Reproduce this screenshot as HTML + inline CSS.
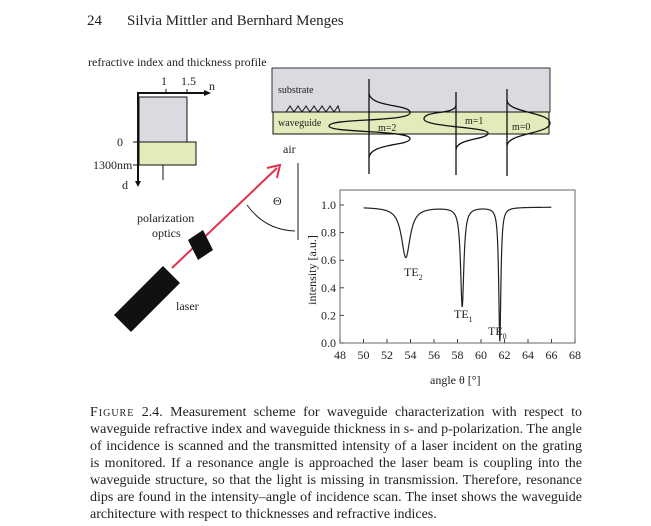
<!DOCTYPE html>
<html><head><meta charset="utf-8"><style>
body{margin:0;width:651px;height:526px;background:#fff;position:relative;overflow:hidden;font-family:"Liberation Serif",serif;color:#222}
.cap{position:absolute;left:90px;width:492px;font-size:14px;line-height:17px;text-align:justify;text-align-last:justify;white-space:nowrap}
.cap.l{text-align-last:left}
svg text{font-family:"Liberation Serif",serif;fill:#222}
</style></head><body>
<svg width="651" height="400" style="position:absolute;left:0;top:0">
<text x="87" y="25" font-size="15">24</text>
<text x="127" y="25" font-size="15">Silvia Mittler and Bernhard Menges</text>
<text x="88" y="66" font-size="12">refractive index and thickness profile</text>
<!-- left profile -->
<rect x="139" y="97" width="48" height="45" fill="#d9dbe0" stroke="#111" stroke-width="1"/>
<rect x="139" y="142" width="57" height="23" fill="#e3ebba" stroke="#111" stroke-width="1"/>
<line x1="138" y1="92" x2="138" y2="182" stroke="#111" stroke-width="2"/>
<polygon points="135,181 141,181 138,187" fill="#111"/>
<line x1="138" y1="93" x2="205" y2="93" stroke="#111" stroke-width="2"/>
<polygon points="204,90 211,93 204,96" fill="#111"/>
<line x1="166" y1="89" x2="166" y2="93" stroke="#111"/>
<line x1="187" y1="89" x2="187" y2="93" stroke="#111"/>
<line x1="163" y1="165" x2="163" y2="180" stroke="#111"/>
<line x1="133" y1="142" x2="139" y2="142" stroke="#111"/>
<line x1="133" y1="165" x2="139" y2="165" stroke="#111"/>
<text x="161" y="85" font-size="12">1</text>
<text x="181" y="85" font-size="12">1.5</text>
<text x="209" y="90" font-size="12">n</text>
<text x="117" y="146" font-size="12">0</text>
<text x="93" y="169" font-size="12">1300nm</text>
<text x="122" y="189" font-size="12">d</text>
<!-- waveguide inset -->
<rect x="272" y="68" width="278" height="44" fill="#d9dbe0" stroke="#333"/>
<rect x="273" y="112" width="276" height="22" fill="#e3ebba" stroke="#111"/>
<polyline points="286,112 290,106 294,112 298,106 302,112 306,106 310,112 314,106 318,112 322,106 326,112 330,106 334,112 338,106 340,112" fill="none" stroke="#111"/>
<text x="278" y="93" font-size="10">substrate</text>
<text x="278" y="126" font-size="10">waveguide</text>
<text x="378" y="131" font-size="10">m=2</text>
<text x="465" y="124" font-size="10">m=1</text>
<text x="512" y="130" font-size="10">m=0</text>
<g stroke="#111" fill="none" stroke-width="1.3">
<line x1="369" y1="79" x2="369" y2="174"/>
<line x1="456" y1="92" x2="456" y2="175"/>
<line x1="507" y1="89" x2="507" y2="176"/>
<path d="M369,93 C370,108 412,104 410,113 C408,122 329,118 329,126 C329,133 412,130 410,139 C408,146 370,143 369,158"/>
<path d="M456,105 C456,115 424,110 424,119 C424,127 488,127 488,133 C488,140 456,138 456,150"/>
<path d="M507,100 C507,113 550,112 550,123 C550,134 507,133 507,146"/>
</g>
<text x="283" y="153" font-size="12">air</text>
<!-- theta -->
<line x1="298" y1="163" x2="298" y2="240" stroke="#666" stroke-width="1.5"/>
<path d="M247,205 Q265,230 295,231" fill="none" stroke="#222"/>
<text x="273" y="205" font-size="12">Θ</text>
<!-- beam -->
<line x1="172" y1="268" x2="277" y2="168" stroke="#e0304a" stroke-width="2"/>
<polyline points="267,168 280,165 277,178" fill="none" stroke="#e0304a" stroke-width="2"/>
<polygon points="114,315 131,332 180,283 163,266" fill="#111"/>
<polygon points="188,240 203,230 213,250 198,260" fill="#111" transform="rotate(0)"/>
<text x="137" y="222" font-size="12">polarization</text>
<text x="152" y="237" font-size="12">optics</text>
<text x="176" y="310" font-size="12">laser</text>
<!-- plot -->
<rect x="340" y="190" width="235" height="153" fill="none" stroke="#666"/>
<g id="ticks" stroke="#444"></g>
<g font-size="12" id="lbl"></g>
<path id="cv" fill="none" stroke="#222" stroke-width="1.2"/>
<text x="404" y="276" font-size="12">TE<tspan font-size="8" dy="4">2</tspan></text>
<text x="454" y="318" font-size="12">TE<tspan font-size="8" dy="4">1</tspan></text>
<text x="488" y="335" font-size="12">TE<tspan font-size="8" dy="4">0</tspan></text>
<text transform="translate(316,270) rotate(-90)" text-anchor="middle" font-size="12">intensity [a.u.]</text>
<text x="430" y="384" font-size="12">angle θ [°]</text>
</svg>
<div class="cap" style="top:404px"><span style="font-variant:small-caps;letter-spacing:1px">Figure</span> 2.4. Measurement scheme for waveguide characterization with respect to</div>
<div class="cap" style="top:421px">waveguide refractive index and waveguide thickness in s- and p-polarization. The angle</div>
<div class="cap" style="top:438px">of incidence is scanned and the transmitted intensity of a laser incident on the grating</div>
<div class="cap" style="top:455px">is monitored. If a resonance angle is approached the laser beam is coupling into the</div>
<div class="cap" style="top:472px">waveguide structure, so that the light is missing in transmission. Therefore, resonance</div>
<div class="cap" style="top:489px">dips are found in the intensity–angle of incidence scan. The inset shows the waveguide</div>
<div class="cap l" style="top:506px">architecture with respect to thicknesses and refractive indices.</div>
<script>
var ns="http://www.w3.org/2000/svg";
function X(v){return 340+(v-48)*11.75}
function Y(v){return 343-v*138}
var t=document.getElementById('ticks'),l=document.getElementById('lbl');
function ln(a,b,c,d){var e=document.createElementNS(ns,'line');e.setAttribute('x1',a);e.setAttribute('y1',b);e.setAttribute('x2',c);e.setAttribute('y2',d);t.appendChild(e)}
function tx(x,y,s,anc){var e=document.createElementNS(ns,'text');e.setAttribute('x',x);e.setAttribute('y',y);e.setAttribute('text-anchor',anc);e.textContent=s;l.appendChild(e)}
for(var v=48;v<=68;v+=2){ln(X(v),343,X(v),339);tx(X(v),359,v,'middle')}
for(var i=0;i<=5;i++){var y=Y(i*0.2);ln(340,y,344,y);tx(336,y+4,(i*0.2).toFixed(1),'end')}
var d="";
for(var a=50;a<=66;a+=0.02){
var I=0.985-0.365/(1+Math.pow((a-53.6)/0.45,2))-0.72/(1+Math.pow((a-58.4)/0.17,2))-0.97/(1+Math.pow((a-61.6)/0.11,2));
d+=(d?"L":"M")+X(a).toFixed(2)+","+Y(I).toFixed(2);}
document.getElementById('cv').setAttribute('d',d);
</script>
</body></html>
